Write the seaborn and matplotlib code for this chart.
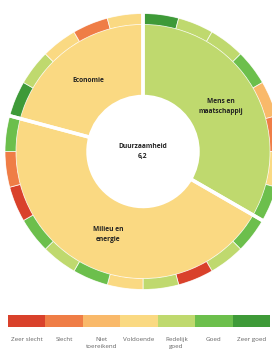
import numpy as np
import matplotlib
matplotlib.use("Agg")
import matplotlib.pyplot as plt
from matplotlib.colors import ListedColormap
import seaborn as sns

# schaal van slecht naar goed
categories = ["Zeer slecht", "Slecht", "Niet toereikend", "Voldoende",
              "Redelijk goed", "Goed", "Zeer goed"]
legend_labels = ["Zeer slecht", "Slecht", "Niet\ntoereikend", "Voldoende",
                 "Redelijk\ngoed", "Goed", "Zeer goed"]
colors = ["#d9412b", "#ef7d46", "#f9b96a", "#fad982",
          "#bfd96e", "#6cbf4c", "#3e9a38"]

# thema's en hun oordeel
themes = ["Mens en\nmaatschappij", "Milieu en\nenergie", "Economie"]
theme_scores = ["Redelijk goed", "Voldoende", "Voldoende"]

# indicatoren per thema (met de klok mee vanaf boven)
mens = ["Zeer goed", "Redelijk goed", "Redelijk goed", "Goed",
        "Niet toereikend", "Slecht", "Voldoende", "Goed"]
milieu = ["Goed", "Redelijk goed", "Zeer slecht", "Redelijk goed", "Voldoende",
          "Goed", "Redelijk goed", "Goed", "Zeer slecht", "Slecht", "Goed"]
economie = ["Zeer goed", "Redelijk goed", "Voldoende", "Slecht", "Voldoende"]

overall_label = "Duurzaamheid"
overall_score = "6,2"

sns.set_theme(style="white")
plt.rcParams["font.family"] = ["Open Sans", "DejaVu Sans"]

col = dict(zip(categories, colors))
indicators = mens + milieu + economie
sizes = [len(mens), len(milieu), len(economie)]

fig = plt.figure(figsize=(2.72, 3.53), dpi=100)
ax = fig.add_axes([0, 0, 1, 1])

center = (143, 201.5)
R = 138
hole = 55
ring = 11

# buitenring met de indicatoren
ax.pie(np.ones(len(indicators)), colors=[col[c] for c in indicators],
       radius=R, center=center, startangle=90, counterclock=False,
       wedgeprops=dict(width=ring, edgecolor=(1, 1, 1, 0.8), linewidth=0.6))

# binnenring met de thema's
wedges, _ = ax.pie(sizes, colors=[col[c] for c in theme_scores],
                   radius=R - ring - 0.3, center=center, startangle=90,
                   counterclock=False,
                   wedgeprops=dict(width=R - ring - 0.3 - hole, edgecolor="none"))

# witte scheidingslijnen tussen de thema's
ax.pie(sizes, colors=["none"] * 3, radius=R + 2, center=center, startangle=90,
       counterclock=False,
       wedgeprops=dict(width=R + 2 - hole, facecolor="none",
                       edgecolor="white", linewidth=2.5))

for w, name in zip(wedges, themes):
    mid = np.deg2rad((w.theta1 + w.theta2) / 2)
    ax.text(center[0] + 90 * np.cos(mid), center[1] + 90 * np.sin(mid), name,
            ha="center", va="center", fontsize=4.8, fontweight="bold",
            color="#222222", linespacing=1.5)

ax.text(center[0], center[1], overall_label + "\n" + overall_score,
        ha="center", va="center", fontsize=4.8, fontweight="bold",
        color="#222222", linespacing=1.6)

ax.set_xlim(0, 272)
ax.set_ylim(0, 353)
ax.set_aspect("auto")
ax.axis("off")

# legenda als strook
lax = fig.add_axes([8 / 272, 26 / 353, 262 / 272, 12 / 353])
sns.heatmap(np.arange(len(categories)).reshape(1, -1),
            cmap=ListedColormap(colors), cbar=False, ax=lax,
            xticklabels=legend_labels, yticklabels=False, linewidths=0)
lax.tick_params(axis="x", length=0, pad=7, labelsize=4.5, labelcolor="#666666",
                rotation=0)
for t in lax.get_xticklabels():
    t.set_verticalalignment("top")
    t.set_linespacing(1.5)

fig.savefig("out.png", dpi=100)
